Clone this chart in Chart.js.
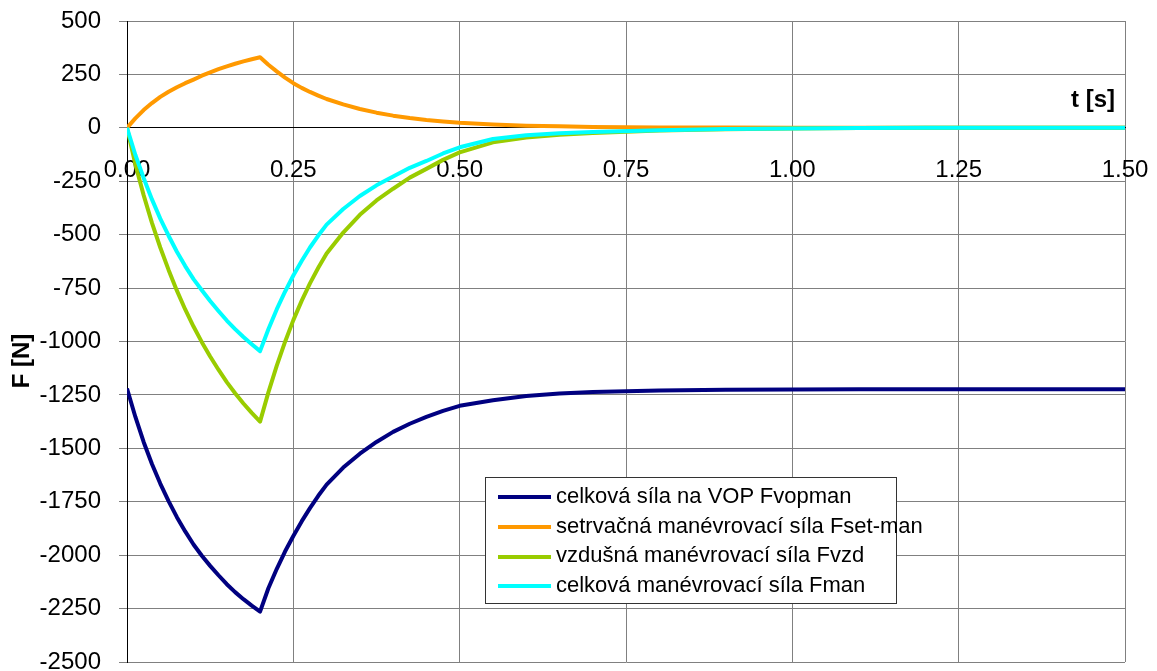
<!DOCTYPE html>
<html>
<head>
<meta charset="utf-8">
<script src="https://cdn.jsdelivr.net/npm/chart.js@4"></script>
<style>
    body { margin: 0; background: #fff; }
    #wrap { position: relative; width: 1157px; height: 671px; }
    #legend {
        position: absolute; left: 485px; top: 477px; width: 410px; height: 122px;
        background: #fff; border: 1px solid #333; padding-top: 3px; box-sizing: content-box;
        font-family: 'Liberation Sans', Arial, sans-serif; font-size: 22px; color: #000;
    }
    #legend div { height: 29.7px; line-height: 29.7px; white-space: nowrap; }
    #legend span.ln { display: inline-block; width: 53px; height: 4px; margin: 0 5px 0 12px; vertical-align: middle; }
</style>
</head>
<body>
<div id="wrap">
    <canvas id="forceChart" width="1157" height="671"></canvas>
    <div id="legend"></div>
</div>
<script>
const times = [0, 0.0125, 0.025, 0.0375, 0.05, 0.0625, 0.075, 0.0875, 0.1,
    0.1125, 0.125, 0.1375, 0.15, 0.1625, 0.175, 0.1875, 0.2,
    0.2125, 0.225, 0.2375, 0.25, 0.2625, 0.275, 0.2875, 0.3,
    0.325, 0.35, 0.375, 0.4, 0.425, 0.45, 0.475, 0.5,
    0.55, 0.6, 0.65, 0.7, 0.8, 0.9, 1.0, 1.1, 1.2, 1.3, 1.4, 1.5];
const fVopman = [-1220, -1352, -1470, -1573, -1665, -1747, -1822, -1889, -1950,
    -2003, -2050, -2094, -2136, -2173, -2206, -2236, -2264,
    -2155, -2065, -1983, -1910, -1842, -1780, -1722, -1670,
    -1590, -1525, -1470, -1423, -1385, -1353, -1325, -1301,
    -1275, -1255, -1243, -1236, -1229, -1226, -1225, -1224, -1224, -1224, -1224, -1224];
const fSetMan = [0, 44, 83, 116, 145, 169, 190, 209, 226,
    244, 260, 275, 288, 300, 311, 321, 330,
    295, 264, 235, 209, 187, 168, 151, 135,
    110, 88, 71, 57, 46, 37, 30, 24,
    16, 10, 7, 4, 2, 1, 0, 0, 0, 0, 0, 0];
const fVzd = [0, -170, -315, -445, -560, -665, -762, -850, -930,
    -1003, -1070, -1132, -1190, -1242, -1290, -1334, -1375,
    -1238, -1114, -1002, -900, -810, -728, -655, -588,
    -490, -407, -340, -285, -233, -192, -150, -115,
    -68, -45, -32, -24, -13, -7, -3, -1, 0, 0, 0, 0];
const fMan = [0, -126, -235, -335, -425, -505, -580, -647, -708,
    -760, -810, -857, -902, -942, -979, -1013, -1045,
    -943, -850, -767, -691, -623, -560, -504, -453,
    -380, -319, -269, -228, -187, -155, -120, -91,
    -52, -35, -25, -20, -11, -6, -3, -1, 0, 0, 0, 0];

const seriesLabels = ['celková síla na VOP Fvopman', 'setrvačná manévrovací síla Fset-man', 'vzdušná manévrovací síla Fvzd', 'celková manévrovací síla Fman'];
const seriesColors = ['#000080', '#FF9900', '#99CC00', '#00FFFF'];
const yTicks = [500, 250, 0, -250, -500, -750, -1000, -1250, -1500, -1750, -2000, -2250, -2500];
const xTicks = [0, 0.25, 0.5, 0.75, 1.0, 1.25, 1.5];

const font = "'Liberation Sans', Arial, sans-serif";

function points(ys) {
    return times.map((t, i) => ({ x: t, y: ys[i] }));
}

// axis titles sit inside the plot, like the original spreadsheet chart
const axisTitles = {
    id: 'axisTitles',
    afterDraw(chart) {
        const ctx = chart.ctx;
        const y0 = chart.scales.y.getPixelForValue(0);
        ctx.save();
        ctx.fillStyle = '#000';
        ctx.font = 'bold 24px ' + font;
        ctx.textAlign = 'right';
        ctx.textBaseline = 'middle';
        ctx.fillText('t [s]', chart.chartArea.right - 10, y0 - 27);
        ctx.translate(22, 361);
        ctx.rotate(-Math.PI / 2);
        ctx.textAlign = 'center';
        ctx.fillText('F [N]', 0, 0);
        ctx.restore();
    }
};

const noPad = (scale) => {
    scale.paddingTop = 0;
    scale.paddingBottom = 0;
    scale.paddingLeft = 0;
    scale.paddingRight = 0;
};

const chart = new Chart(document.getElementById('forceChart'), {
    type: 'line',
    data: {
        datasets: [fVopman, fSetMan, fVzd, fMan].map((ys, i) => ({
            label: seriesLabels[i],
            data: points(ys),
            borderColor: seriesColors[i],
            backgroundColor: seriesColors[i],
            borderWidth: 4,
            order: 4 - i,
        })),
    },
    options: {
        responsive: false,
        animation: false,
        layout: {
            padding: { top: 21, right: 32, bottom: 9, left: 0 },
        },
        plugins: {
            legend: { display: false },
            tooltip: { enabled: false },
        },
        elements: {
            line: { tension: 0, borderJoinStyle: 'round' },
            point: { radius: 0 },
        },
        scales: {
            x: {
                type: 'linear',
                position: { y: 0 },
                min: 0,
                max: 1.5,
                afterBuildTicks: (scale) => { scale.ticks = xTicks.map(v => ({ value: v })); },
                afterFit: noPad,
                ticks: {
                    callback: (v) => v.toFixed(2),
                    color: '#000',
                    font: { family: font, size: 24 },
                    padding: 20,
                    maxRotation: 0,
                },
                grid: { color: '#808080', lineWidth: 1, tickLength: 8 },
                border: { color: '#000', width: 1 },
            },
            y: {
                min: -2500,
                max: 500,
                afterBuildTicks: (scale) => { scale.ticks = yTicks.map(v => ({ value: v })); },
                afterFit: (scale) => { noPad(scale); scale.width = 127; },
                ticks: {
                    callback: (v) => String(v),
                    color: '#000',
                    font: { family: font, size: 24 },
                    padding: 18,
                },
                grid: { color: '#808080', lineWidth: 1, tickLength: 8 },
                border: { color: '#000', width: 1 },
            },
        },
    },
    plugins: [axisTitles],
});

document.getElementById('legend').innerHTML = chart.data.datasets.map(ds =>
    '<div><span class="ln" style="background:' + ds.borderColor + '"></span>' + ds.label + '</div>'
).join('');
</script>
</body>
</html>
